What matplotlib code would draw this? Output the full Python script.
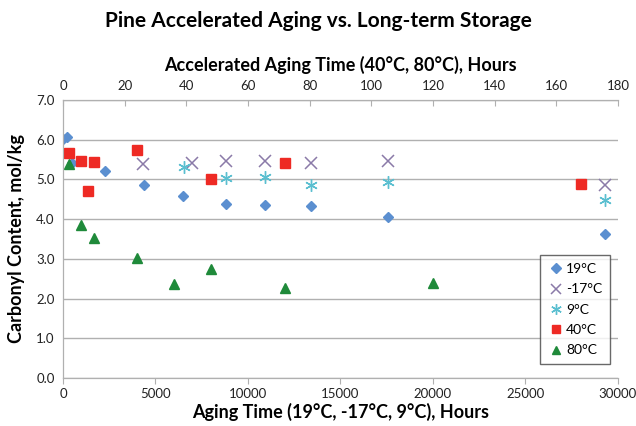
import matplotlib
matplotlib.use("Agg")
import matplotlib.pyplot as plt
import numpy as np

plt.rcParams["font.family"] = ["Lato", "DejaVu Sans"]

# long-term storage (bottom axis, hours)
t19 = [0, 200, 500, 2250, 4380, 6490, 8810, 10920, 13390, 17590, 29300]
y19 = [6.03, 6.07, 5.42, 5.20, 4.86, 4.58, 4.37, 4.36, 4.34, 4.06, 3.62]
tm17 = [4340, 6990, 8810, 10920, 13390, 17590, 29300]
ym17 = [5.39, 5.42, 5.46, 5.46, 5.42, 5.47, 4.86]
t9 = [6540, 8810, 10920, 13390, 17590, 29300]
y9 = [5.31, 5.03, 5.05, 4.86, 4.93, 4.48]

# accelerated aging (top axis, hours)
t40 = [2, 6, 8, 10, 24, 48, 72, 168]
y40 = [5.66, 5.47, 4.72, 5.43, 5.73, 5.01, 5.42, 4.89]
t80 = [2, 6, 10, 24, 36, 48, 72, 120]
y80 = [5.39, 3.85, 3.53, 3.01, 2.37, 2.75, 2.26, 2.40]

fig = plt.figure(figsize=(6.36, 4.26), dpi=100)
ax = fig.add_axes([0.099, 0.1127, 0.8726, 0.6526])
ax2 = ax.twiny()

grid_c = "#b0b0b0"
ax.set_ylim(0, 7)
ax.set_yticks(np.arange(0, 7.5, 1.0))
ax.set_yticklabels([f"{v:.1f}" for v in np.arange(0, 7.5, 1.0)])
ax.set_xlim(0, 30000)
ax.set_xticks(np.arange(0, 30001, 5000))
ax.yaxis.grid(True, color=grid_c, lw=1)
ax.set_axisbelow(True)
ax2.set_xlim(0, 180)
ax2.set_xticks(np.arange(0, 181, 20))

for a in (ax, ax2):
    a.spines["right"].set_visible(False)
    for s in ("left", "bottom", "top"):
        a.spines[s].set_color(grid_c)
ax.tick_params(axis="y", length=0, labelsize=9.5, colors="#222222", pad=6)
ax.tick_params(axis="x", length=4, color=grid_c, labelsize=9.5, labelcolor="#222222")
ax2.tick_params(axis="x", direction="in", length=4, color=grid_c, labelsize=9.5,
                labelcolor="#222222", pad=6)

h1, = ax.plot(t19, y19, "D", color="#5b8fd0", ms=5.5, ls="none", label="19°C")
h2, = ax.plot(tm17, ym17, "x", color="#8a7aa8", ms=8, mew=1.1, ls="none", label="-17°C")
h3, = ax.plot(t9, y9, marker=(6, 2, 0), color="#5bbfd0", ms=9, mew=1.0, ls="none", label="9°C")
h4, = ax2.plot(t40, y40, "s", color="#ee2a24", ms=6.5, ls="none", label="40°C")
h5, = ax2.plot(t80, y80, "^", color="#1f8a3a", ms=7.5, ls="none", label="80°C")

leg = ax.legend(handles=[h1, h2, h3, h4, h5], loc="lower right",
                bbox_to_anchor=(0.998, 0.025), fontsize=10, frameon=True,
                fancybox=False, edgecolor="#444444", handletextpad=0.1,
                handlelength=1.2, labelspacing=0.6, borderpad=0.55,
                markerscale=0.85)
leg.get_frame().set_linewidth(1)

ax.set_ylabel("Carbonyl Content, mol/kg", fontsize=13, fontweight="bold", labelpad=8)
ax.set_xlabel("Aging Time (19°C, -17°C, 9°C), Hours", fontsize=13,
              fontweight="bold", labelpad=2)
ax2.set_xlabel("Accelerated Aging Time (40°C, 80°C), Hours", fontsize=13,
               fontweight="bold", labelpad=6)
fig.suptitle("Pine Accelerated Aging vs. Long-term Storage", fontsize=15,
             fontweight="bold", y=0.975)

fig.savefig("out.png", dpi=100)
